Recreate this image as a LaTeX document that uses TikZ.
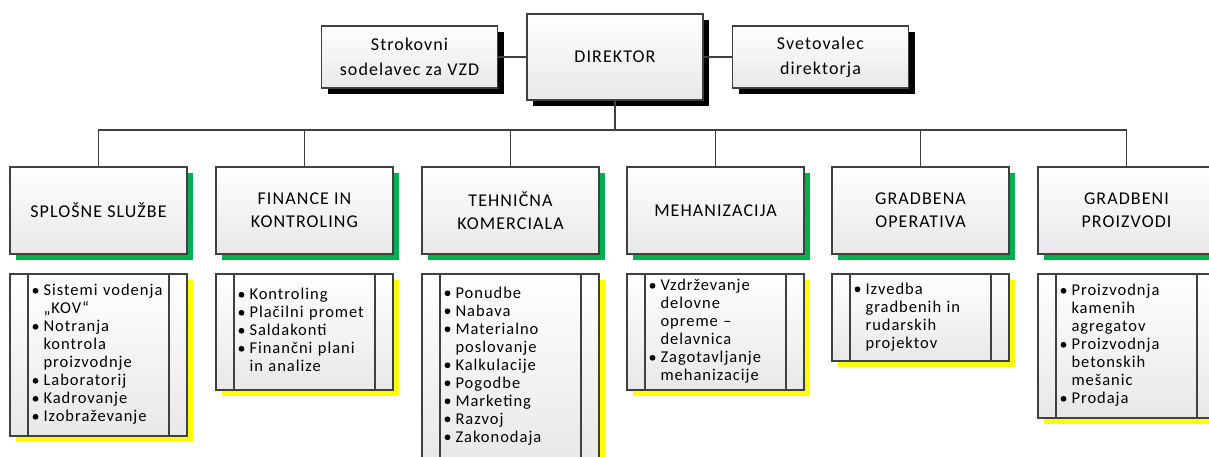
\documentclass[tikz,border=0pt]{standalone}
\usepackage{fontspec}
\setmainfont{Carlito}[LetterSpace=6]
\usetikzlibrary{shadows}

\definecolor{linegray}{RGB}{64,64,64}
\definecolor{shgreen}{RGB}{0,176,80}
\definecolor{shyellow}{RGB}{255,255,0}

\newcommand{\bul}{\makebox[8pt][c]{\tikz[baseline=-4.8pt]\path[fill=black, draw=none] (0pt,0pt) circle[radius=2.9pt];}}
\newenvironment{duties}{\noindent\begin{tabular}{@{}l@{\hspace{4pt}}l@{}}}{\end{tabular}}

\begin{document}
\begin{tikzpicture}%
    [x=1pt, y=-1pt,
     box/.style = {draw=linegray, line width=1.6pt, inner sep=0pt,
                   top color=white, bottom color=gray!18, align=center},
     boss/.style = {box, minimum width=176pt, minimum height=86pt,
                    font=\fontsize{18}{24}\selectfont,
                    drop shadow={shadow xshift=6pt, shadow yshift=-6pt, fill=black, opacity=1}},
     staff/.style = {box, minimum width=176pt, minimum height=62pt,
                     font=\fontsize{18}{25}\selectfont,
                     drop shadow={shadow xshift=6pt, shadow yshift=-6pt, fill=black, opacity=1}},
     unit/.style = {box, minimum width=177pt, minimum height=87pt,
                    font=\fontsize{18}{23}\selectfont,
                    drop shadow={shadow xshift=6pt, shadow yshift=-6pt, fill=shgreen, opacity=1}},
     tasks/.style = {box, minimum width=177pt, minimum height=#1,
                     text width=134pt, align=left,
                     font=\fontsize{16.5}{18}\selectfont,
                     drop shadow={shadow xshift=6pt, shadow yshift=-6pt, fill=shyellow, opacity=1},
                     path picture={
                       \draw[linegray, line width=1.6pt]
                         ([xshift=18pt]path picture bounding box.north west) -- ([xshift=18pt]path picture bounding box.south west)
                         ([xshift=-18pt]path picture bounding box.north east) -- ([xshift=-18pt]path picture bounding box.south east);}},
     conn/.style = {draw=linegray, line width=1.8pt}]
    \useasboundingbox (0,0) rectangle (1209,457);

    % vodstvo
    \node[boss]  (dir)  at (615,57)   {DIREKTOR};
    \node[staff] (svz)  at (409.5,57) {Strokovni\\sodelavec za VZD};
    \node[staff] (svet) at (820.5,57) {Svetovalec\\direktorja};

    % sektorji
    \node[unit] (u1) at (98.5,210.5)  {SPLOŠNE SLUŽBE};
    \node[unit] (u2) at (304.5,210.5) {FINANCE IN\\KONTROLING};
    \node[unit] (u3) at (510.5,210.5) {TEHNIČNA\\KOMERCIALA};
    \node[unit] (u4) at (715.5,210.5) {MEHANIZACIJA};
    \node[unit] (u5) at (920.5,210.5) {GRADBENA\\OPERATIVA};
    \node[unit] (u6) at (1126.5,210.5) {GRADBENI\\PROIZVODI};

    % naloge
    \node[tasks=162pt] (t1) at (98.5,355) {\begin{duties}
        \bul & Sistemi vodenja\\ & „KOV“\\
        \bul & Notranja\\ & kontrola\\ & proizvodnje\\
        \bul & Laboratorij\\ \bul & Kadrovanje\\ \bul & Izobraževanje
        \end{duties}};
    \node[tasks=116pt] (t2) at (304.5,332) {\begin{duties}
        \bul & Kontroling\\ \bul & Plačilni promet\\ \bul & Saldakonti\\
        \bul & Finančni plani\\ & in analize
        \end{duties}};
    \node[tasks=185pt] (t3) at (510.5,366.5) {\begin{duties}
        \bul & Ponudbe\\ \bul & Nabava\\ \bul & Materialno\\ & poslovanje\\
        \bul & Kalkulacije\\ \bul & Pogodbe\\ \bul & Marketing\\
        \bul & Razvoj\\ \bul & Zakonodaja
        \end{duties}};
    \node[tasks=116pt] (t4) at (715.5,332) {\begin{duties}
        \bul & Vzdrževanje\\ & delovne\\ & opreme --\\ & delavnica\\
        \bul & Zagotavljanje\\ & mehanizacije
        \end{duties}};
    \node[tasks=87pt] (t5) at (920.5,317.5) {\begin{duties}
        \bul & Izvedba\\ & gradbenih in\\ & rudarskih\\ & projektov
        \end{duties}};
    \node[tasks=144pt] (t6) at (1126.5,346) {\begin{duties}
        \bul & Proizvodnja\\ & kamenih\\ & agregatov\\
        \bul & Proizvodnja\\ & betonskih\\ & mešanic\\
        \bul & Prodaja
        \end{duties}};

    \coordinate (bus) at (615,130);
    \draw[conn] (svz) -- (dir);
    \draw[conn] (dir) -- (svet);
    \draw[conn] (dir) -- (bus);
    \foreach \u in {u1,u2,u3,u4,u5,u6}
        \draw[conn] (\u) |- (bus);

\end{tikzpicture}
\end{document}
